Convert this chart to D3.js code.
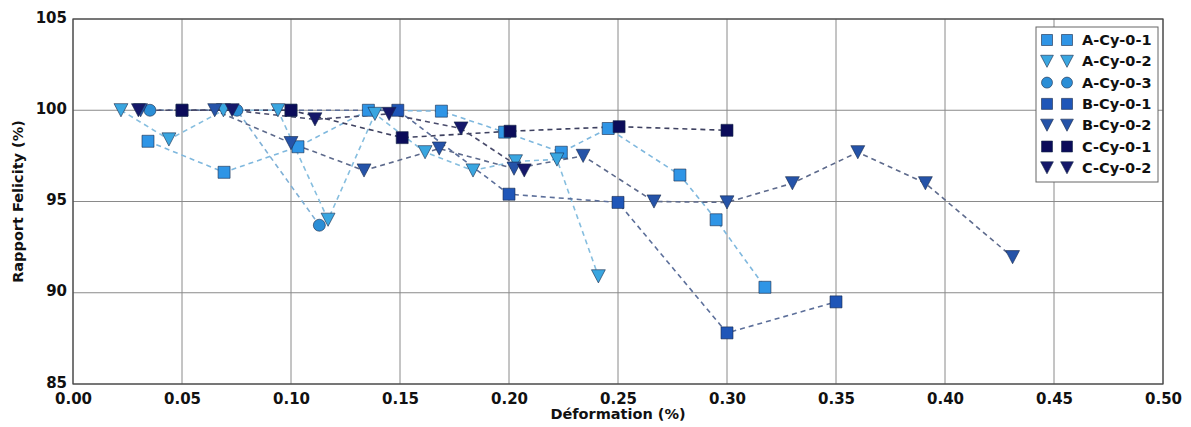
<!DOCTYPE html>
<html>
<head>
<meta charset="utf-8">
<script src="https://cdn.jsdelivr.net/npm/d3@7/dist/d3.min.js"></script>
<style>
  html, body { margin: 0; padding: 0; background: #ffffff; }
  svg { display: block; }
  text { font-family: "DejaVu Sans", sans-serif; font-weight: bold; fill: #111; }
</style>
</head>
<body>
<svg id="chart" width="1191" height="427"></svg>
<script>
// ---- data ----
const seriesNames = ["A-Cy-0-1", "A-Cy-0-2", "A-Cy-0-3", "B-Cy-0-1", "B-Cy-0-2", "C-Cy-0-1", "C-Cy-0-2"];

const aCy01X = [0.0344, 0.0693, 0.1032, 0.1355, 0.169, 0.198, 0.224, 0.2455, 0.2784, 0.295, 0.3174];
const aCy01Y = [98.3, 96.6, 98.0, 100.0, 99.95, 98.8, 97.7, 99.0, 96.45, 94.0, 90.3];

const aCy02X = [0.022, 0.044, 0.069, 0.094, 0.117, 0.1385, 0.1615, 0.1835, 0.203, 0.222, 0.241];
const aCy02Y = [100.0, 98.4, 100.0, 100.0, 94.0, 99.8, 97.7, 96.7, 97.2, 97.3, 90.9];

const aCy03X = [0.0353, 0.0752, 0.113];
const aCy03Y = [100.0, 100.0, 93.7];

const bCy01X = [0.05, 0.10, 0.149, 0.20, 0.25, 0.30, 0.35];
const bCy01Y = [100.0, 100.0, 100.0, 95.4, 94.95, 87.8, 89.5];

const bCy02X = [0.031, 0.065, 0.10, 0.1335, 0.168, 0.2023, 0.234, 0.2665, 0.30, 0.33, 0.36, 0.391, 0.431];
const bCy02Y = [100.0, 100.0, 98.2, 96.7, 97.9, 96.8, 97.5, 95.0, 94.95, 96.0, 97.7, 96.0, 91.95];

const cCy01X = [0.05, 0.10, 0.151, 0.2005, 0.2505, 0.30];
const cCy01Y = [100.0, 100.0, 98.5, 98.85, 99.1, 98.9];

const cCy02X = [0.03, 0.073, 0.111, 0.145, 0.178, 0.207];
const cCy02Y = [100.0, 100.0, 99.5, 99.8, 99.0, 96.7];

const xTicks = [0.00, 0.05, 0.10, 0.15, 0.20, 0.25, 0.30, 0.35, 0.40, 0.45, 0.50];
const yTicks = [85, 90, 95, 100, 105];

const xLabel = "Déformation (%)";
const yLabel = "Rapport Felicity (%)";

// ---- styles ----
const seriesXs = [aCy01X, aCy02X, aCy03X, bCy01X, bCy02X, cCy01X, cCy02X];
const seriesYs = [aCy01Y, aCy02Y, aCy03Y, bCy01Y, bCy02Y, cCy01Y, cCy02Y];
const colors = ["#2f95e6", "#3aa6e0", "#2b8ed6", "#1f56b8", "#2553a8", "#0b0c5a", "#15186a"];
const lineColors = ["#7fb8de", "#86bedf", "#7fb0d6", "#5c6f9a", "#5d6a8c", "#3e4160", "#4a4c6c"];
const shapes = ["square", "tri", "circle", "square", "tri", "square", "tri"];

const series = seriesNames.map((name, i) => ({
  name, color: colors[i], lineColor: lineColors[i], shape: shapes[i],
  points: seriesXs[i].map((x, j) => ({ x, y: seriesYs[i][j] }))
}));

// ---- layout ----
const svg = d3.select("#chart");
const margin = { left: 73, top: 19, right: 1191 - 1163, bottom: 427 - 384 };
const W = 1191 - margin.left - margin.right;
const H = 427 - margin.top - margin.bottom;

const x = d3.scaleLinear().domain([0, 0.5]).range([margin.left, margin.left + W]);
const y = d3.scaleLinear().domain([85, 105]).range([margin.top + H, margin.top]);

// grid
const grid = svg.append("g");
grid.selectAll(".vg").data(xTicks).enter().append("line")
  .attr("x1", d => x(d)).attr("x2", d => x(d))
  .attr("y1", margin.top).attr("y2", margin.top + H)
  .attr("stroke", "#8a8a8a").attr("stroke-width", 1);
grid.selectAll(".hg").data(yTicks).enter().append("line")
  .attr("y1", d => y(d)).attr("y2", d => y(d))
  .attr("x1", margin.left).attr("x2", margin.left + W)
  .attr("stroke", "#8a8a8a").attr("stroke-width", 1);

// axes with tick labels
const xAxis = d3.axisBottom(x).tickValues(xTicks).tickFormat(d3.format(".2f")).tickSize(0).tickPadding(6);
const yAxis = d3.axisLeft(y).tickValues(yTicks).tickFormat(d3.format("d")).tickSize(0).tickPadding(6);

const gx = svg.append("g").attr("transform", `translate(0,${margin.top + H})`).call(xAxis);
const gy = svg.append("g").attr("transform", `translate(${margin.left},0)`).call(yAxis);
[gx, gy].forEach(g => {
  g.select(".domain").remove();
  g.selectAll("text").style("font-family", "DejaVu Sans, sans-serif")
    .style("font-weight", "bold").style("font-size", "15px").attr("fill", "#111");
});
gx.selectAll("text").attr("dy", "0.95em");
gy.selectAll("text").attr("dy", "0.2em");

// frame
svg.append("rect").attr("x", margin.left).attr("y", margin.top)
  .attr("width", W).attr("height", H)
  .attr("fill", "none").attr("stroke", "#444").attr("stroke-width", 1.2);

// axis titles
svg.append("text").attr("x", margin.left + W / 2).attr("y", 419)
  .attr("text-anchor", "middle").style("font-size", "14.5px").text(xLabel);
svg.append("text")
  .attr("transform", `translate(23,${margin.top + H / 2}) rotate(-90)`)
  .attr("text-anchor", "middle").style("font-size", "14.5px").text(yLabel);

// marker drawing
function markerPath(shape, s) {
  if (shape === "square") {
    const h = s / 2;
    return `M${-h},${-h}H${h}V${h}H${-h}Z`;
  } else if (shape === "tri") {
    const w = s * 0.58, t = s * 0.55;
    return `M${-w},${-t}L${w},${-t}L0,${t}Z`;
  } else {
    const r = s / 2;
    return `M${r},0A${r},${r} 0 1,1 ${-r},0A${r},${r} 0 1,1 ${r},0Z`;
  }
}
const markerSize = { square: 12, tri: 12, circle: 12 };

const line = d3.line().x(d => x(d.x)).y(d => y(d.y));

const plot = svg.append("g");
series.forEach(s => {
  plot.append("path").datum(s.points)
    .attr("d", line)
    .attr("fill", "none").attr("stroke", s.lineColor)
    .attr("stroke-width", 1.6).attr("stroke-dasharray", "5,4");
});
series.forEach(s => {
  plot.selectAll(null).data(s.points).enter().append("path")
    .attr("transform", d => `translate(${x(d.x)},${y(d.y)})`)
    .attr("d", markerPath(s.shape, markerSize[s.shape]))
    .attr("fill", s.color).attr("stroke", "#1a2a4a").attr("stroke-width", 0.6);
});

// legend
const lgX = 1036, lgY = 27, lgW = 122, lgH = 155;
const lg = svg.append("g");
lg.append("rect").attr("x", lgX).attr("y", lgY).attr("width", lgW).attr("height", lgH)
  .attr("fill", "#fff").attr("stroke", "#666").attr("stroke-width", 1);
series.forEach((s, i) => {
  const cy = lgY + 13 + i * 21.3;
  [lgX + 11, lgX + 31].forEach(cx => {
    lg.append("path").attr("transform", `translate(${cx},${cy})`)
      .attr("d", markerPath(s.shape, 11))
      .attr("fill", s.color).attr("stroke", "#1a2a4a").attr("stroke-width", 0.6);
  });
  lg.append("text").attr("x", lgX + 46).attr("y", cy + 5)
    .style("font-size", "14.5px").text(s.name);
});
</script>
</body>
</html>
